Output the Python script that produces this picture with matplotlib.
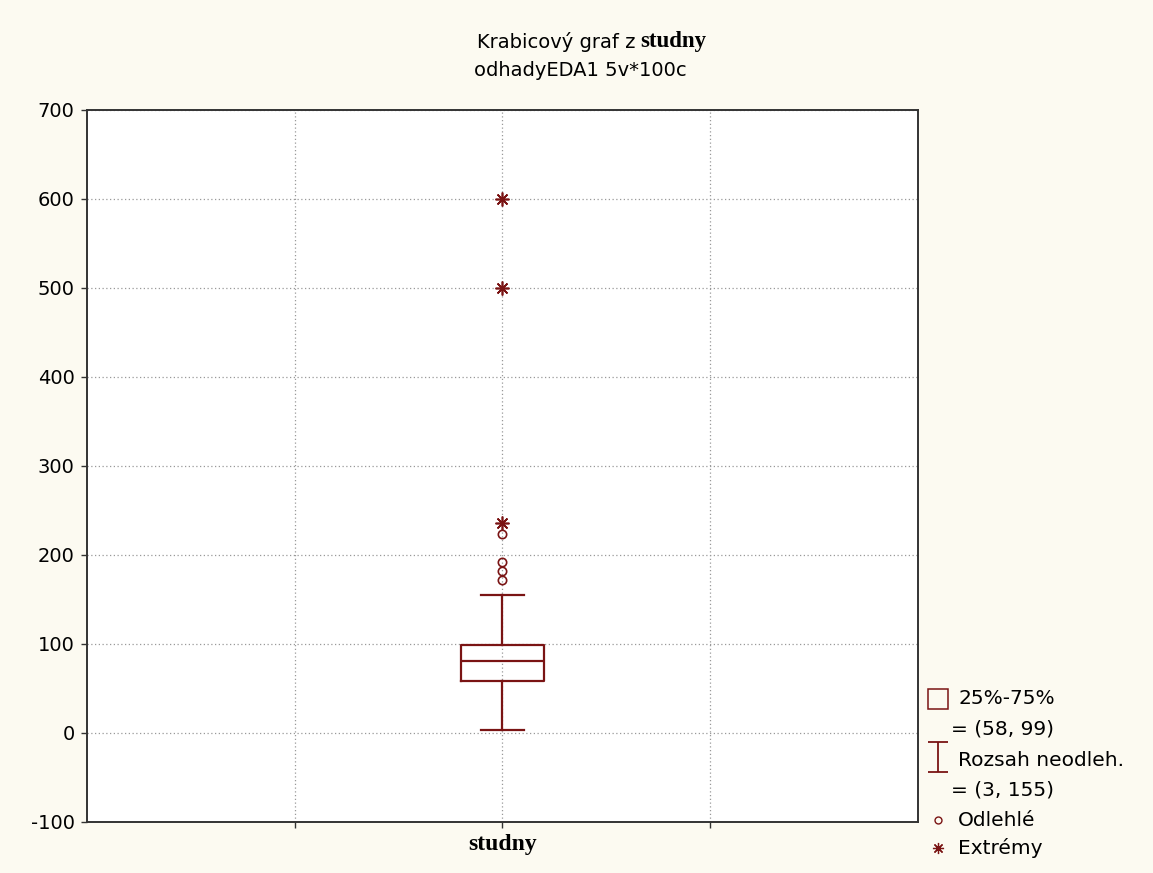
import matplotlib
matplotlib.use('Agg')
import matplotlib.pyplot as plt
from matplotlib.lines import Line2D
from matplotlib.path import Path

# data
category = 'studny'
q1, median, q3 = 58, 81, 99
whisker_low, whisker_high = 3, 155
outliers = [172, 182, 192, 224]
extremes = [236, 500, 600]
y_ticks = [-100, 0, 100, 200, 300, 400, 500, 600, 700]

dark_red = '#7a1414'
bg = '#fcfaf1'

fig = plt.figure(figsize=(11.53, 8.73), dpi=100, facecolor=bg)
ax = fig.add_axes([0.0755, 0.0585, 0.7205, 0.8155])
ax.set_facecolor('white')

stats = [dict(med=median, q1=q1, q3=q3, whislo=whisker_low, whishi=whisker_high,
              fliers=[], label=category)]
line_kw = dict(color=dark_red, linewidth=1.6)
ax.bxp(stats, positions=[1], widths=0.2, showfliers=False,
       boxprops=line_kw, medianprops=line_kw, whiskerprops=line_kw,
       capprops=line_kw, capwidths=0.105, manage_ticks=False)

ax.plot([1] * len(outliers), outliers, linestyle='none', marker='o', markersize=6,
        markerfacecolor='none', markeredgecolor=dark_red, markeredgewidth=1.2)
ax.plot([1] * len(extremes), extremes, linestyle='none', marker=(8, 2, 0), markersize=10,
        markeredgecolor=dark_red, markeredgewidth=1.2)

ax.set_xlim(0, 2)
ax.set_ylim(-100, 700)
ax.set_yticks(y_ticks)
ax.set_yticklabels([str(v) for v in y_ticks], fontsize=14)
ax.set_xticks([0.5, 1, 1.5])
ax.set_xticklabels(['', category, ''])
lbl = ax.get_xticklabels()[1]
lbl.set_fontfamily('Liberation Serif')
lbl.set_fontweight('bold')
lbl.set_fontsize(17)
ax.tick_params(axis='both', direction='out', length=4, width=1, colors='#333333', pad=5)
ax.tick_params(axis='x', labelcolor='black')
ax.tick_params(axis='y', labelcolor='black')
ax.grid(True, linestyle=(0, (1, 2)), color='#999999', linewidth=0.9)
ax.set_axisbelow(True)
for s in ax.spines.values():
    s.set_color('#333333')
    s.set_linewidth(1.4)

# title: mixed fonts
fig.text(0.5516, 1 - 42 / 873, 'Krabicový graf z', ha='right', va='center', fontsize=14)
fig.text(0.5550, 1 - 42 / 873, 'studny', ha='left', va='center', fontsize=16.5,
         fontfamily='Liberation Serif', fontweight='bold')
fig.text(0.5030, 1 - 70 / 873, 'odhadyEDA1 5v*100c', ha='center', va='center', fontsize=14)

# legend drawn by hand, in pixel positions
W, H = 1153, 873
def fx(x):
    return x / W
def fy(y):
    return 1 - y / H

ibeam = Path([(-0.7, 1), (0.7, 1), (0, 1), (0, -1), (-0.7, -1), (0.7, -1)],
             [Path.MOVETO, Path.LINETO, Path.MOVETO, Path.LINETO, Path.MOVETO, Path.LINETO])

leg_marks = [
    (699, dict(marker='s', markersize=15, markerfacecolor='none', markeredgecolor=dark_red, markeredgewidth=1.1)),
    (757, dict(marker=ibeam, markersize=21, markeredgecolor=dark_red, markeredgewidth=1.3)),
    (820, dict(marker='o', markersize=5, markerfacecolor='none', markeredgecolor=dark_red, markeredgewidth=1.0)),
    (848, dict(marker=(8, 2, 0), markersize=8, markeredgecolor=dark_red, markeredgewidth=0.9)),
]
for y, kw in leg_marks:
    fig.add_artist(Line2D([fx(938)], [fy(y)], linestyle='none', transform=fig.transFigure, **kw))

leg_texts = [
    (958, 698, '25%-75%'),
    (951, 729, '= (%d, %d)' % (q1, q3)),
    (958, 760, 'Rozsah neodleh.'),
    (951, 790, '= (%d, %d)' % (whisker_low, whisker_high)),
    (958, 820, 'Odlehlé'),
    (958, 848, 'Extrémy'),
]
for x, y, t in leg_texts:
    fig.text(fx(x), fy(y), t, ha='left', va='center', fontsize=14.5)

fig.savefig('out.png', dpi=100, facecolor=bg)
